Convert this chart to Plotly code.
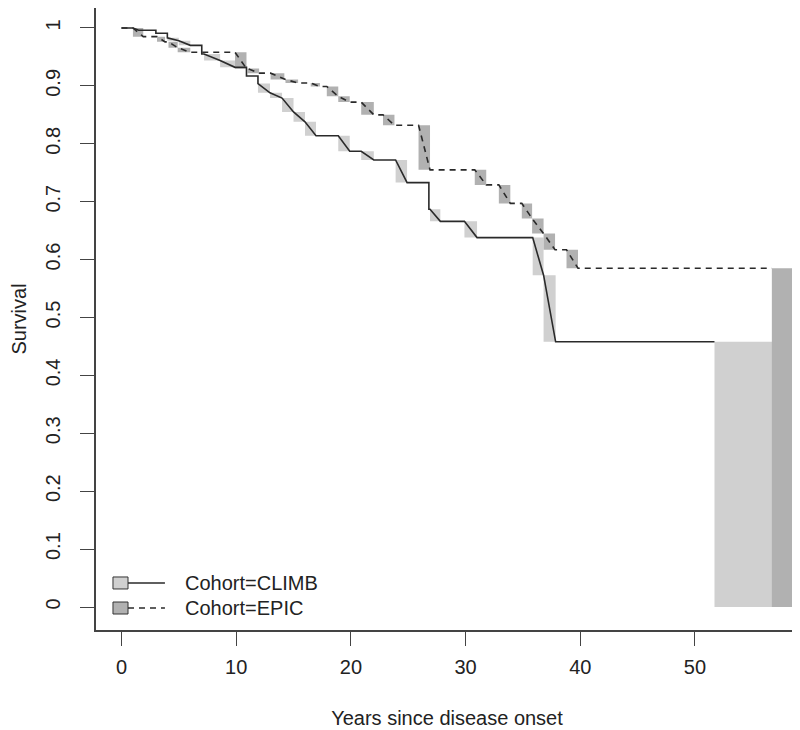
import plotly.graph_objects as go

# ---------------- data (Turnbull intervals: left, right, survival after drop) -------------
cohorts = ["CLIMB", "EPIC"]

climb_left = [1.0, 3.0, 4.0, 4.0, 5.0, 7.0, 7.2, 8.6, 10.9, 11.9, 11.9, 12.95, 14.0, 15.0,
              16.0, 18.9, 20.9, 23.9, 26.8, 26.9, 29.9, 35.85, 36.8, 51.7]
climb_right = [1.5, 3.0, 4.0, 5.0, 6.0, 7.0, 8.6, 9.9, 10.9, 11.9, 12.95, 14.0, 15.0, 16.0,
               16.96, 19.9, 22.0, 24.9, 26.8, 27.8, 31.0, 36.8, 37.85, None]
climb_surv = [0.996, 0.991, 0.983, 0.978, 0.970, 0.955, 0.944, 0.932, 0.917, 0.904, 0.888,
              0.879, 0.855, 0.838, 0.814, 0.787, 0.772, 0.733, 0.687, 0.666, 0.638, 0.573,
              0.458, 0.0]

epic_left = [1.0, 3.1, 4.1, 4.9, 9.9, 11.0, 13.0, 14.3, 16.5, 17.9, 18.9, 20.9, 22.8, 25.9,
             30.8, 32.9, 34.9, 35.8, 36.8, 38.8, 56.7]
epic_right = [1.9, 3.8, 4.9, 6.0, 10.9, 12.0, 14.2, 15.4, 17.3, 18.9, 19.9, 22.0, 23.8, 26.9,
              31.8, 33.9, 35.8, 36.8, 37.8, 39.8, None]
epic_surv = [0.985, 0.976, 0.966, 0.958, 0.930, 0.922, 0.911, 0.905, 0.899, 0.882, 0.872,
             0.850, 0.832, 0.755, 0.729, 0.697, 0.671, 0.645, 0.617, 0.585, 0.0]

x_ticks = [0, 10, 20, 30, 40, 50]
y_ticks = [0, 0.1, 0.2, 0.3, 0.4, 0.5, 0.6, 0.7, 0.8, 0.9, 1]
y_tick_labels = ["0", "0.1", "0.2", "0.3", "0.4", "0.5", "0.6", "0.7", "0.8", "0.9", "1"]

# ---------------- styling -------------
X_RANGE = [-2.22, 58.98]
Y_RANGE = [-0.0397, 1.0345]
FILLS = {"CLIMB": "#d0d0d0", "EPIC": "#b1b1b1"}
DASH = {"CLIMB": "solid", "EPIC": "6px,5px"}
LINE_COL = "#2a2a2a"
FONT = "Liberation Sans, Arial, sans-serif"
FS = 20


def rect_path(left, right, surv):
    xs, ys = [], []
    prev = 1.0
    for l, r, s in zip(left, right, surv):
        rr = X_RANGE[1] if r is None else r
        xs += [l, rr, rr, l, l, None]
        ys += [s, s, prev, prev, s, None]
        prev = s
    return xs, ys


def line_path(left, right, surv):
    xs, ys = [0.0], [1.0]
    prev = 1.0
    for l, r, s in zip(left, right, surv):
        xs.append(l)
        ys.append(prev)
        if r is None:
            break
        xs.append(r)
        ys.append(s)
        prev = s
    return xs, ys


data = {"CLIMB": (climb_left, climb_right, climb_surv),
        "EPIC": (epic_left, epic_right, epic_surv)}

fig = go.Figure()
for c in cohorts:
    xs, ys = rect_path(*data[c])
    fig.add_trace(go.Scatter(x=xs, y=ys, mode="lines", fill="toself",
                             fillcolor=FILLS[c], line=dict(width=0, color=FILLS[c]),
                             hoverinfo="skip", showlegend=False))
for c in cohorts:
    xs, ys = line_path(*data[c])
    fig.add_trace(go.Scatter(x=xs, y=ys, mode="lines", name="Cohort=" + c,
                             line=dict(color=LINE_COL, width=1.6, dash=DASH[c]),
                             showlegend=False))

# ---------------- manual legend (R style) -------------
px_per_y = (Y_RANGE[1] - Y_RANGE[0]) / 622.0
leg_rows = [0.0415, -0.0017]
sq_x0, sq_x1 = -0.74, 0.57
ln_x1 = 3.79
txt_x = 5.36
shapes = []
annotations = []
for c, yrow in zip(cohorts, leg_rows):
    shapes.append(dict(type="rect", xref="x", yref="y", x0=sq_x0, x1=sq_x1,
                       y0=yrow - 6 * px_per_y, y1=yrow + 6 * px_per_y,
                       fillcolor=FILLS[c], line=dict(color="#333333", width=1)))
    shapes.append(dict(type="line", xref="x", yref="y", x0=sq_x1, x1=ln_x1,
                       y0=yrow, y1=yrow, line=dict(color=LINE_COL, width=1.3, dash=DASH[c])))
    annotations.append(dict(x=txt_x, y=yrow, xref="x", yref="y", text="Cohort=" + c,
                            showarrow=False, xanchor="left", yanchor="middle",
                            font=dict(family=FONT, size=FS, color="#222222")))

fig.update_layout(
    width=792, height=722,
    margin=dict(l=88, r=2, t=0, b=100),
    paper_bgcolor="white", plot_bgcolor="white",
    font=dict(family=FONT, size=FS, color="#222222"),
    shapes=shapes, annotations=annotations,
    showlegend=False,
)
fig.update_xaxes(range=X_RANGE, tickvals=x_ticks, ticks="outside", ticklen=14, tickwidth=1.3,
                 tickcolor="#444444", showline=True, mirror=True, linecolor="#444444",
                 linewidth=1.5, showgrid=False, zeroline=False, ticklabelstandoff=4,
                 automargin=False,
                 title=dict(text="Years since disease onset", standoff=34,
                            font=dict(family=FONT, size=FS)))
fig.update_yaxes(range=Y_RANGE, tickvals=y_ticks, ticktext=y_tick_labels, tickangle=-90,
                 ticks="outside", ticklen=14, tickwidth=1.3, tickcolor="#444444",
                 showline=True, mirror=True, linecolor="#444444", linewidth=1.5,
                 showgrid=False, zeroline=False, ticklabelstandoff=12, automargin=False,
                 title=dict(text="Survival", standoff=16, font=dict(family=FONT, size=FS)))

fig.write_html("out.html")
